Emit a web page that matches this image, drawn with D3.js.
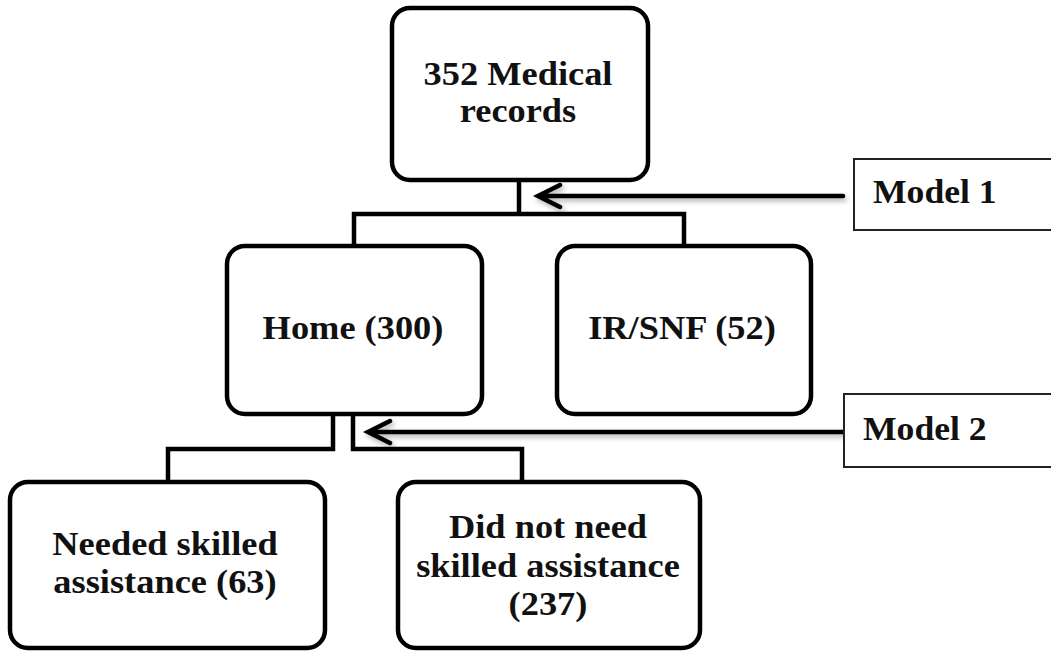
<!DOCTYPE html>
<html>
<head>
<meta charset="utf-8">
<script src="https://cdn.jsdelivr.net/npm/d3@7"></script>
<style>
  html, body { margin: 0; padding: 0; background: #fff; }
  svg { display: block; }
</style>
</head>
<body>
<svg id="chart" width="1051" height="651"></svg>
<script>
// ---- data ----
const nodeIds = ["root", "home", "irsnf", "needed", "notneeded"];
const nodeLines = [
  ["352 Medical", "records"],
  ["Home (300)"],
  ["IR/SNF (52)"],
  ["Needed skilled", "assistance (63)"],
  ["Did not need", "skilled assistance", "(237)"]
];
const modelLabels = ["Model 1", "Model 2"];

// ---- layout (positions / sizes) ----
const boxLayout = {
  root:      { x0: 392, x1: 648, y0: 8,   y1: 180, cx: 518, base: [85, 122] },
  home:      { x0: 227, x1: 482, y0: 246, y1: 414, cx: 353, base: [339] },
  irsnf:     { x0: 557, x1: 811, y0: 246, y1: 414, cx: 682, base: [339] },
  needed:    { x0: 10,  x1: 325, y0: 482, y1: 648, cx: 165, base: [555, 593] },
  notneeded: { x0: 398, x1: 700, y0: 482, y1: 648, cx: 548, base: [538, 577, 615] }
};
const modelLayout = [
  { x0: 854, x1: 1070, y0: 159, y1: 230, tx: 873, ty: 203, ax0: 843, ax1: 538, ay: 196 },
  { x0: 844, x1: 1070, y0: 394, y1: 467, tx: 863, ty: 440, ax0: 844, ax1: 368, ay: 432 }
];
// connector paths as point lists
const connectors = [
  [[519, 180], [519, 214]],
  [[354, 246], [354, 214], [684, 214], [684, 246]],
  [[333, 414], [333, 449], [168, 449], [168, 482]],
  [[353, 414], [353, 449], [522, 449], [522, 482]]
];

const svg = d3.select("#chart");
const defs = svg.append("defs");
const f = defs.append("filter").attr("id", "shadow")
  .attr("filterUnits", "userSpaceOnUse")
  .attr("x", 0).attr("y", 0).attr("width", 1051).attr("height", 651);
f.append("feDropShadow").attr("dx", 2).attr("dy", 3).attr("stdDeviation", 2.5)
  .attr("flood-color", "#000").attr("flood-opacity", 0.3);

const line = d3.line();
const FONT = "Liberation Serif, Times New Roman, serif";
const STRETCH = 1.07;

// connectors
svg.selectAll("path.conn").data(connectors).join("path")
  .attr("class", "conn")
  .attr("d", d => line(d))
  .attr("fill", "none").attr("stroke", "#000").attr("stroke-width", 4.5)
  .attr("stroke-linejoin", "miter");

// boxes
const nodes = nodeIds.map((id, i) => ({ id, lines: nodeLines[i], ...boxLayout[id] }));
const g = svg.selectAll("g.node").data(nodes).join("g").attr("class", "node");
g.append("rect")
  .attr("x", d => d.x0).attr("y", d => d.y0)
  .attr("width", d => d.x1 - d.x0).attr("height", d => d.y1 - d.y0)
  .attr("rx", 18).attr("ry", 18)
  .attr("fill", "#fff").attr("stroke", "#000").attr("stroke-width", 4.5);
g.each(function(d) {
  const sel = d3.select(this);
  d.lines.forEach((t, k) => {
    sel.append("text")
      .attr("transform", `translate(${d.cx},${d.base[k]}) scale(${STRETCH},1)`)
      .attr("text-anchor", "middle")
      .attr("font-family", FONT).attr("font-weight", "bold")
      .attr("font-size", 34).attr("fill", "#111")
      .text(t);
  });
});

// model boxes + arrows
const models = modelLabels.map((m, i) => ({ label: m, ...modelLayout[i] }));
const mg = svg.selectAll("g.model").data(models).join("g").attr("class", "model");
mg.append("path")
  .attr("d", d => line([[d.ax0, d.ay], [d.ax1 + 2, d.ay]]) +
                  line([[d.ax1 + 22, d.ay - 11], [d.ax1, d.ay], [d.ax1 + 22, d.ay + 11]]))
  .attr("stroke", "#000").attr("stroke-width", 4.5).attr("fill", "none")
  .attr("stroke-linecap", "round").attr("stroke-linejoin", "miter")
  .attr("filter", "url(#shadow)");
mg.append("rect")
  .attr("x", d => d.x0).attr("y", d => d.y0)
  .attr("width", d => d.x1 - d.x0).attr("height", d => d.y1 - d.y0)
  .attr("fill", "#fff").attr("stroke", "#222").attr("stroke-width", 2);
mg.append("text")
  .attr("transform", d => `translate(${d.tx},${d.ty}) scale(1.08,1)`)
  .attr("font-family", FONT).attr("font-weight", "bold")
  .attr("font-size", 33).attr("fill", "#111")
  .text(d => d.label);
</script>
</body>
</html>
